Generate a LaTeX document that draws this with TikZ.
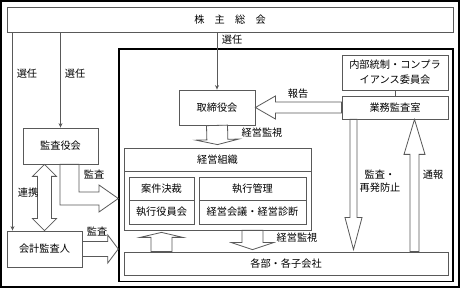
\documentclass[tikz,border=0pt]{standalone}
\usepackage{fontspec}
\setmainfont{Noto Sans CJK JP}
\usetikzlibrary{arrows.meta,positioning,calc}

\newcommand{\jsize}{\fontsize{10.2pt}{13pt}\selectfont}
% hollow block arrow: from, to, shaft half width, head half width, head length
\newcommand{\fatarrow}[5]{%
  \coordinate (hb) at ($(#2)!#5pt!(#1)$);
  \draw[blk] ($(#1)!#3pt!90:(#2)$) -- ($(hb)!#3pt!90:(#2)$) -- ($(hb)!#4pt!90:(#2)$) -- (#2)
    -- ($(hb)!#4pt!-90:(#2)$) -- ($(hb)!#3pt!-90:(#2)$) -- ($(#1)!#3pt!-90:(#2)$) -- cycle;}
\newcommand{\dblarrow}[5]{%
  \coordinate (ha) at ($(#1)!#5pt!(#2)$);
  \coordinate (hb) at ($(#2)!#5pt!(#1)$);
  \draw[blk] (#1) -- ($(ha)!#4pt!90:(#2)$) -- ($(ha)!#3pt!90:(#2)$) -- ($(hb)!#3pt!90:(#2)$)
    -- ($(hb)!#4pt!90:(#2)$) -- (#2) -- ($(hb)!#4pt!-90:(#2)$) -- ($(hb)!#3pt!-90:(#2)$)
    -- ($(ha)!#3pt!-90:(#2)$) -- ($(ha)!#4pt!-90:(#2)$) -- cycle;}

\begin{document}
\begin{tikzpicture}[x=1pt, y=-1pt, >={Stealth[length=4.5pt,width=4pt]},
  box/.style={draw=black!65, line width=0.8pt, inner sep=0pt, font=\jsize, align=center},
  lbl/.style={font=\jsize, inner sep=1pt, align=center},
  blk/.style={draw=black!65, fill=white, line width=0.8pt},
  sel/.style={draw=black!65, line width=0.8pt}]
\useasboundingbox (0,0) rectangle (460,288);
\draw[line width=2pt] (1,1) rectangle (459,286.5);

\node[box, minimum width=446pt, minimum height=25pt] (kabu) at (230,19.5) {株　主　総　会};
\node[box, minimum width=75pt, minimum height=36pt] (kansa) at (60.5,146) {監査役会};
\node[box, minimum width=75pt, minimum height=36pt] (kaikei) at (44.5,249) {会計監査人};
\node[draw, line width=1.4pt, minimum width=334pt, minimum height=232.5pt] (shikkou) at (286,165.25) {};
\node[box, minimum width=76pt, minimum height=35pt] (torishimari) at (217,107.5) {取締役会};
\node[box, minimum width=106pt, minimum height=35pt] (naibu) at (395,72.5) {内部統制・コンプラ\\[2pt]イアンス委員会};
\node[box, minimum width=106pt, minimum height=23pt] (gyomu) at (395,107.5) {業務監査室};
\node[box, minimum width=187pt, minimum height=82pt] (keiei) at (217.5,189) {};
\node[box, minimum width=187pt, minimum height=23pt] (keieihead) at (217.5,159.5) {経営組織};
\node[box, minimum width=65pt, minimum height=23pt] (anken) at (161.5,188.5) {案件決裁};
\node[box, minimum width=65pt, minimum height=24pt] (yakuin) at (161.5,212) {執行役員会};
\node[box, minimum width=107pt, minimum height=23pt] (shikko) at (252.5,188.5) {執行管理};
\node[box, minimum width=107pt, minimum height=24pt] (kaigi) at (252.5,212) {経営会議・経営診断};
\node[box, minimum width=324pt, minimum height=23pt] (kakubu) at (286,263.5) {各部・各子会社};

% election lines
\draw[sel, ->] (12.5,0 |- kabu.south) -- (12.5,0 |- kaikei.north);
\draw[sel, ->] (kabu.south -| kansa.north) -- (kansa.north);
\draw[sel, ->] (kabu.south -| torishimari.north) -- (torishimari.north);
\draw[sel] (naibu) -- (gyomu);

% block arrows
\fatarrow{gyomu.west}{torishimari.east}{5.5}{11.5}{20}
\coordinate (k1) at ([yshift=3pt]keiei.north);
\fatarrow{torishimari.south}{k1}{10.5}{21.5}{5}
\coordinate (k2) at (shikko.south |- keiei.south);
\coordinate (k3) at ([yshift=2pt]shikko.south |- kakubu.north);
\fatarrow{k2}{k3}{10.5}{21}{7}
\coordinate (k4) at (anken.south |- kakubu.north);
\coordinate (k5) at ([yshift=-2pt]anken.south |- keiei.south);
\fatarrow{k4}{k5}{10.5}{21.5}{5}
\coordinate (g1) at (353.5,0 |- gyomu.south);
\coordinate (g2) at ([yshift=2pt]353.5,0 |- kakubu.north);
\fatarrow{g1}{g2}{3.5}{8.5}{32}
\coordinate (g3) at (414.5,0 |- kakubu.north);
\coordinate (g4) at (414.5,0 |- gyomu.south);
\fatarrow{g3}{g4}{4.5}{10.5}{35}
\coordinate (a2) at (kaikei.east -| shikkou.west);
\fatarrow{kaikei.east}{a2}{7.5}{14}{10.5}
\coordinate (r1) at (kaikei.north |- kansa.south);
\dblarrow{r1}{kaikei.north}{7}{12}{12}
\draw[blk] (kansa.south -| 60,0) -- (60,205) -- (99,205) -- (99,212) -- (shikkou.west |- 0,198.5)
  -- (99,185) -- (99,192) -- (79,192) -- (kansa.south -| 79,0) -- cycle;

% labels
\node[lbl] (sel1) at (27,74) {選任};
\node[lbl] (sel2) at (75,74) {選任};
\node[lbl] (sel3) at (232,40) {選任};
\node[lbl] (hokoku) at (298,94) {報告};
\node[lbl] (kanshi1) at (262,133) {経営監視};
\node[lbl] (kanshi2) at (297,238) {経営監視};
\node[lbl] (kansa1) at (94,175) {監査};
\node[lbl] (kansa2) at (97,232) {監査};
\node[lbl] (renkei) at (28,193) {連携};
\node[lbl] (saihatsu) at (380,181) {監査・\\再発防止};
\node[lbl] (tsuho) at (433,175) {通報};
\end{tikzpicture}
\end{document}
